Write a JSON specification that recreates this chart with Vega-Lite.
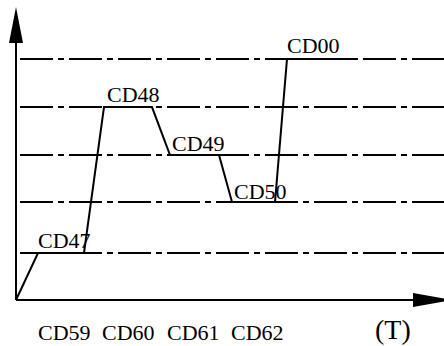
{
  "$schema": "https://vega.github.io/schema/vega-lite/v6.json",
  "width": 444,
  "height": 346,
  "autosize": {"type": "none"},
  "padding": 0,
  "background": "white",
  "config": {"view": {"stroke": null}},
  "datasets": {
    "levels": [
      {"t0": 0, "t1": 428, "level": 0.98},
      {"t0": 0, "t1": 428, "level": 2.04},
      {"t0": 0, "t1": 428, "level": 3.02},
      {"t0": 0, "t1": 428, "level": 4.02},
      {"t0": 0, "t1": 428, "level": 5.02}
    ],
    "path": [
      {"i": 0, "t": 0, "level": 0},
      {"i": 1, "t": 22, "level": 0.98},
      {"i": 2, "t": 68, "level": 0.98},
      {"i": 3, "t": 88, "level": 4.02},
      {"i": 4, "t": 136, "level": 4.02},
      {"i": 5, "t": 154, "level": 3.02},
      {"i": 6, "t": 203, "level": 3.02},
      {"i": 7, "t": 216, "level": 2.04},
      {"i": 8, "t": 259, "level": 2.04},
      {"i": 9, "t": 271, "level": 5.02},
      {"i": 10, "t": 341, "level": 5.02}
    ],
    "axes": [
      {"t0": 0, "t1": 0, "l0": 0, "l1": 5.5},
      {"t0": 0, "t1": 400, "l0": 0, "l1": 0}
    ],
    "labels": [
      {"t": 22, "level": 1.083, "label": "CD47"},
      {"t": 91, "level": 4.125, "label": "CD48"},
      {"t": 156, "level": 3.104, "label": "CD49"},
      {"t": 218, "level": 2.104, "label": "CD50"},
      {"t": 271, "level": 5.146, "label": "CD00"},
      {"t": 22, "level": -0.833, "label": "CD59"},
      {"t": 86, "level": -0.833, "label": "CD60"},
      {"t": 151, "level": -0.833, "label": "CD61"},
      {"t": 215, "level": -0.833, "label": "CD62"}
    ]
  },
  "encoding": {},
  "layer": [
    {
      "data": {"name": "levels"},
      "mark": {"type": "rule", "color": "black", "strokeWidth": 2, "strokeDash": [33, 5, 6, 5], "strokeDashOffset": 45},
      "encoding": {
        "x": {"field": "t0", "type": "quantitative", "scale": {"domain": [-16, 428], "nice": false, "zero": false}, "axis": null},
        "x2": {"field": "t1"},
        "y": {"field": "level", "type": "quantitative", "scale": {"domain": [-0.9583333, 6.25], "nice": false, "zero": false}, "axis": null}
      }
    },
    {
      "data": {"name": "axes"},
      "mark": {"type": "rule", "color": "black", "strokeWidth": 2},
      "encoding": {
        "x": {"field": "t0", "type": "quantitative"},
        "x2": {"field": "t1"},
        "y": {"field": "l0", "type": "quantitative"},
        "y2": {"field": "l1"}
      }
    },
    {
      "data": {"values": [{"t": 0, "level": 5.729, "dir": "up"}]},
      "mark": {"type": "point", "filled": true, "color": "black", "opacity": 1, "strokeWidth": 0, "size": 1296, "shape": "M0,-1L0.389,1L-0.389,1Z"},
      "encoding": {
        "x": {"field": "t", "type": "quantitative"},
        "y": {"field": "level", "type": "quantitative"}
      }
    },
    {
      "data": {"values": [{"t": 417, "level": 0, "dir": "right"}]},
      "mark": {"type": "point", "filled": true, "color": "black", "opacity": 1, "strokeWidth": 0, "size": 1600, "shape": "M1,0L-1,0.35L-1,-0.35Z"},
      "encoding": {
        "x": {"field": "t", "type": "quantitative"},
        "y": {"field": "level", "type": "quantitative"}
      }
    },
    {
      "data": {"name": "path"},
      "mark": {"type": "line", "color": "black", "strokeWidth": 2, "strokeJoin": "miter"},
      "encoding": {
        "x": {"field": "t", "type": "quantitative"},
        "y": {"field": "level", "type": "quantitative"},
        "order": {"field": "i", "type": "quantitative"}
      }
    },
    {
      "data": {"name": "labels"},
      "mark": {"type": "text", "font": "Times New Roman", "fontSize": 22, "color": "black", "align": "left", "baseline": "alphabetic"},
      "encoding": {
        "x": {"field": "t", "type": "quantitative"},
        "y": {"field": "level", "type": "quantitative"},
        "text": {"field": "label"}
      }
    },
    {
      "data": {"values": [{"t": 359, "level": -0.8125, "label": "(T)"}]},
      "mark": {"type": "text", "font": "Times New Roman", "fontSize": 28, "color": "black", "align": "left", "baseline": "alphabetic"},
      "encoding": {
        "x": {"field": "t", "type": "quantitative"},
        "y": {"field": "level", "type": "quantitative"},
        "text": {"field": "label"}
      }
    }
  ]
}
